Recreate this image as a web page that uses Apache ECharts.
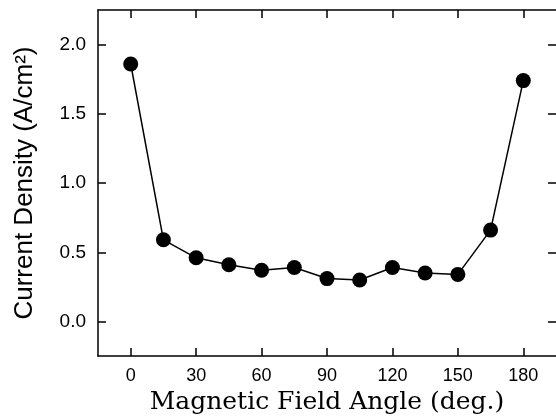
<!DOCTYPE html>
<html>
<head>
<meta charset="utf-8">
<script src="https://cdn.jsdelivr.net/npm/echarts@6/dist/echarts.min.js"></script>
<style>
  html, body { margin: 0; padding: 0; background: #fff; }
  #chart { width: 556px; height: 420px; }
</style>
</head>
<body>
<div id="chart"></div>
<script>
// angle of the magnetic field (deg.)
var angles = [0, 15, 30, 45, 60, 75, 90, 105, 120, 135, 150, 165, 180];
// current density (A/cm2)
var density = [1.86, 0.59, 0.46, 0.41, 0.37, 0.39, 0.31, 0.30, 0.39, 0.35, 0.34, 0.66, 1.74];
var xTicks = [0, 30, 60, 90, 120, 150, 180];
var yTicks = [0, 0.5, 1.0, 1.5, 2.0];

var points = [];
for (var i = 0; i < angles.length; i++) {
  points.push([angles[i], density[i]]);
}

var myChart = echarts.init(document.getElementById('chart'));

var lineCol = '#000';
var axisLine = { show: true, onZero: false, lineStyle: { color: lineCol, width: 1.5 } };
var tickStyle = { show: true, inside: true, length: 8, lineStyle: { color: lineCol, width: 1.5 } };

var option = {
  animation: false,
  grid: { left: 98, top: 10, right: 0, bottom: 60 },
  xAxis: [{
    type: 'value',
    position: 'bottom',
    min: -15,
    max: 195,
    name: 'Magnetic Field Angle (deg.)',
    nameLocation: 'middle',
    nameGap: 28,
    nameTextStyle: { fontFamily: 'DejaVu Serif', fontSize: 25, color: lineCol },
    axisLine: axisLine,
    axisTick: Object.assign({ customValues: xTicks }, tickStyle),
    axisLabel: {
      customValues: xTicks,
      margin: 11,
      fontFamily: 'Liberation Sans',
      fontSize: 18,
      color: lineCol
    },
    splitLine: { show: false }
  }, {
    type: 'value',
    position: 'top',
    min: -15,
    max: 195,
    axisLine: axisLine,
    axisTick: Object.assign({ customValues: xTicks }, tickStyle),
    axisLabel: { show: false },
    splitLine: { show: false }
  }],
  yAxis: [{
    type: 'value',
    position: 'left',
    min: -0.25,
    max: 2.25,
    name: 'Current Density (A/cm²)',
    nameLocation: 'middle',
    nameGap: 60,
    nameTextStyle: { fontFamily: 'Liberation Sans', fontSize: 26, color: lineCol },
    axisLine: axisLine,
    axisTick: Object.assign({ customValues: yTicks }, tickStyle),
    axisLabel: {
      customValues: yTicks,
      margin: 12,
      fontFamily: 'Liberation Sans',
      fontSize: 19,
      color: lineCol,
      formatter: function (v) { return v.toFixed(1); }
    },
    splitLine: { show: false }
  }, {
    type: 'value',
    position: 'right',
    min: -0.25,
    max: 2.25,
    axisLine: { show: false, onZero: false },
    axisTick: Object.assign({ customValues: yTicks }, tickStyle),
    axisLabel: { show: false },
    splitLine: { show: false }
  }],
  series: [{
    type: 'line',
    data: points,
    symbol: 'circle',
    symbolSize: 15,
    itemStyle: { color: lineCol },
    lineStyle: { color: lineCol, width: 1.5 }
  }]
};

myChart.setOption(option);
</script>
</body>
</html>
